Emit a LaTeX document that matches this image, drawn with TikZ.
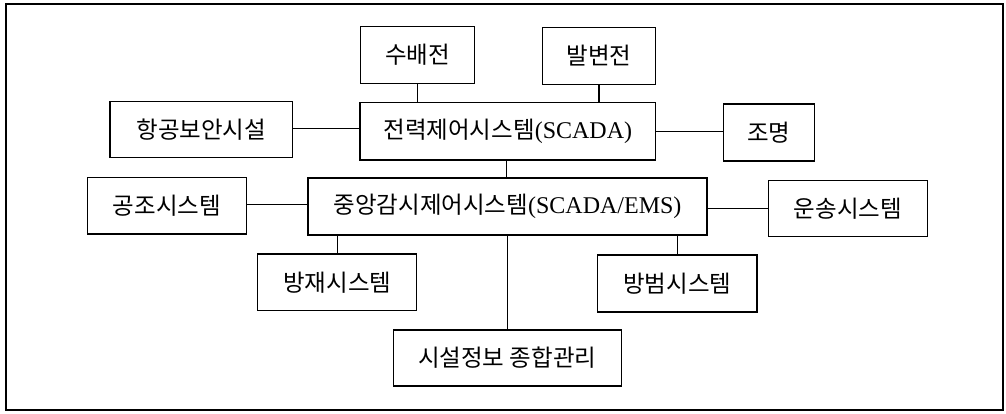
\documentclass[tikz,border=0pt]{standalone}
\usepackage{fontspec}
\setmainfont{Liberation Serif}
\newfontfamily\kr{Noto Sans CJK KR}
\newcommand{\lat}[1]{{\rmfamily\fontsize{24}{28}\selectfont #1}}
\begin{document}
\begin{tikzpicture}[x=1pt,y=-1pt,
  box/.style={draw, line width=1.1pt, inner sep=0pt, align=center,
    font=\kr\fontsize{23.5}{28}\selectfont},
  mainbox/.style={box, line width=2pt},
  conn/.style={line width=1.1pt}]
\useasboundingbox (0,0) rectangle (1006,414);
\draw[line width=1.6pt] (6,4) rectangle (1003,410);
\node[box, minimum width=113.6pt, minimum height=56.6pt] (su) at (417.5,55) {수배전};
\node[box, minimum width=113.4pt, minimum height=57pt] (bal) at (599,55.8) {발변전};
\node[box, minimum width=182.7pt, minimum height=56.3pt] (hang) at (201.3,129.8) {항공보안시설};
\node[box, minimum width=295.7pt, minimum height=57.7pt] (jeon) at (507.8,131.2) {전력제어시스템\lat{(SCADA)}};
\node[box, minimum width=91pt, minimum height=57pt] (jo) at (768.8,132.5) {조명};
\node[box, minimum width=159.4pt, minimum height=56.3pt] (gong) at (167,205.8) {공조시스템};
\node[mainbox, minimum width=398.4pt, minimum height=56.4pt] (jung) at (507.5,206.5) {중앙감시제어시스템\lat{(SCADA/EMS)}};
\node[box, minimum width=159pt, minimum height=56.4pt] (un) at (847.8,208.5) {운송시스템};
\node[box, minimum width=159pt, minimum height=56.7pt] (bang) at (337.2,282.3) {방재시스템};
\node[box, minimum width=159.3pt, minimum height=57pt] (beom) at (677.3,283.5) {방범시스템};
\node[box, minimum width=227.7pt, minimum height=56pt] (si) at (507.2,358) {시설정보 종합관리};
\draw[conn] (su.south) -- (su.south |- jeon.north);
\draw[conn] (bal.south) -- (bal.south |- jeon.north);
\draw[conn] ([yshift=1pt]hang.east) -- ([yshift=1pt]hang.east -| jeon.west);
\draw[conn] (jeon.east) -- (jeon.east -| jo.west);
\draw[conn] ([xshift=-1pt]jeon.south) -- ([xshift=-1pt]jeon.south |- jung.north);
\draw[conn] ([yshift=1pt]gong.east) -- ([yshift=1pt]gong.east -| jung.west);
\draw[conn] (un.west) -- (un.west -| jung.east);
\draw[conn] (bang.north) -- (bang.north |- jung.south);
\draw[conn] (beom.north) -- (beom.north |- jung.south);
\draw[conn] (si.north) -- (si.north |- jung.south);
\end{tikzpicture}
\end{document}
